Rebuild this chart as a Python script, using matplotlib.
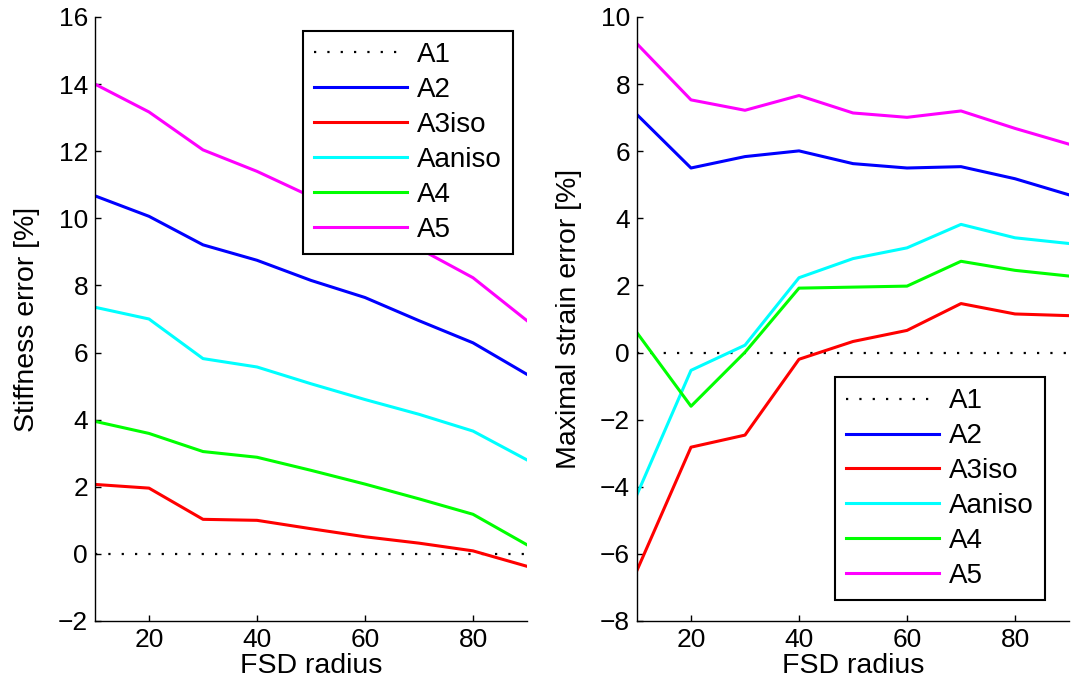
import matplotlib
matplotlib.use("Agg")
import matplotlib.pyplot as plt

plt.rcParams['font.family'] = ['Liberation Sans', 'DejaVu Sans']

radius = [10, 20, 30, 40, 50, 60, 70, 80, 90]
labels = ["A1", "A2", "A3iso", "Aaniso", "A4", "A5"]
colors = ["black", "#0000ff", "#ff0000", "#00ffff", "#00ff00", "#ff00ff"]

# Stiffness error [%]
stiff_A1 = [0, 0, 0, 0, 0, 0, 0, 0, 0]
stiff_A2 = [10.67, 10.06, 9.21, 8.75, 8.15, 7.64, 6.95, 6.29, 5.35]
stiff_A3iso = [2.07, 1.96, 1.03, 1.00, 0.75, 0.51, 0.32, 0.09, -0.37]
stiff_Aaniso = [7.35, 7.00, 5.82, 5.57, 5.07, 4.60, 4.16, 3.66, 2.80]
stiff_A4 = [3.95, 3.59, 3.05, 2.88, 2.49, 2.08, 1.64, 1.18, 0.27]
stiff_A5 = [14.0, 13.17, 12.04, 11.40, 10.65, 9.87, 9.10, 8.23, 6.95]

# Maximal strain error [%]
strain_A1 = [0, 0, 0, 0, 0, 0, 0, 0, 0]
strain_A2 = [7.09, 5.50, 5.84, 6.01, 5.63, 5.50, 5.54, 5.18, 4.70]
strain_A3iso = [-6.49, -2.82, -2.46, -0.20, 0.33, 0.66, 1.46, 1.15, 1.10]
strain_Aaniso = [-4.23, -0.53, 0.22, 2.23, 2.80, 3.12, 3.82, 3.42, 3.25]
strain_A4 = [0.59, -1.60, 0.01, 1.92, 1.95, 1.98, 2.72, 2.45, 2.28]
strain_A5 = [9.20, 7.53, 7.22, 7.66, 7.14, 7.01, 7.20, 6.68, 6.21]

stiff = [stiff_A1, stiff_A2, stiff_A3iso, stiff_Aaniso, stiff_A4, stiff_A5]
strain = [strain_A1, strain_A2, strain_A3iso, strain_Aaniso, strain_A4, strain_A5]

W, H = 1071, 699
fig = plt.figure(figsize=(W / 100, H / 100), dpi=100)

def px_axes(x0, x1, y0, y1):
    return fig.add_axes([x0 / W, 1 - y1 / H, (x1 - x0) / W, (y1 - y0) / H])

ax1 = px_axes(95, 527, 17, 621)
ax2 = px_axes(637, 1069, 17, 621)

TICK_FS = 19
LABEL_FS = 20.5
LEG_FS = 20

def style(ax, series, ylim, ylabel, legend_anchor, legend_loc):
    for s, lab, c in zip(series, labels, colors):
        if lab == "A1":
            ax.plot(radius, s, color=c, linestyle=(0, (1, 5)), lw=1.6, label=lab)
        else:
            ax.plot(radius, s, color=c, lw=2.2, label=lab)
    ax.set_xlim(10, 90)
    ax.set_ylim(*ylim)
    ax.set_xticks([20, 40, 60, 80])
    ax.set_yticks(range(ylim[0], ylim[1] + 1, 2))
    ax.spines['top'].set_visible(False)
    ax.spines['right'].set_visible(False)
    for sp in ('left', 'bottom'):
        ax.spines[sp].set_linewidth(1.0)
    ax.tick_params(direction='in', length=4.5, width=1.0, labelsize=TICK_FS, pad=5)
    ax.set_xlabel("FSD radius", fontsize=LABEL_FS, labelpad=1)
    ax.set_ylabel(ylabel, fontsize=LABEL_FS, labelpad=13)
    leg = ax.legend(loc=legend_loc, bbox_to_anchor=legend_anchor, borderaxespad=0,
                    fontsize=LEG_FS, handlelength=3.35, handletextpad=0.36,
                    labelspacing=0.32, borderpad=0.4, fancybox=False,
                    framealpha=1, edgecolor='black')
    leg.get_frame().set_linewidth(1.5)

style(ax1, stiff, (-2, 16), "Stiffness error [%]", (0.9676, 0.9768), 'upper right')
style(ax2, strain, (-8, 10), "Maximal strain error [%]", (0.944, 0.0348), 'lower right')

fig.savefig("out.png", dpi=100)
